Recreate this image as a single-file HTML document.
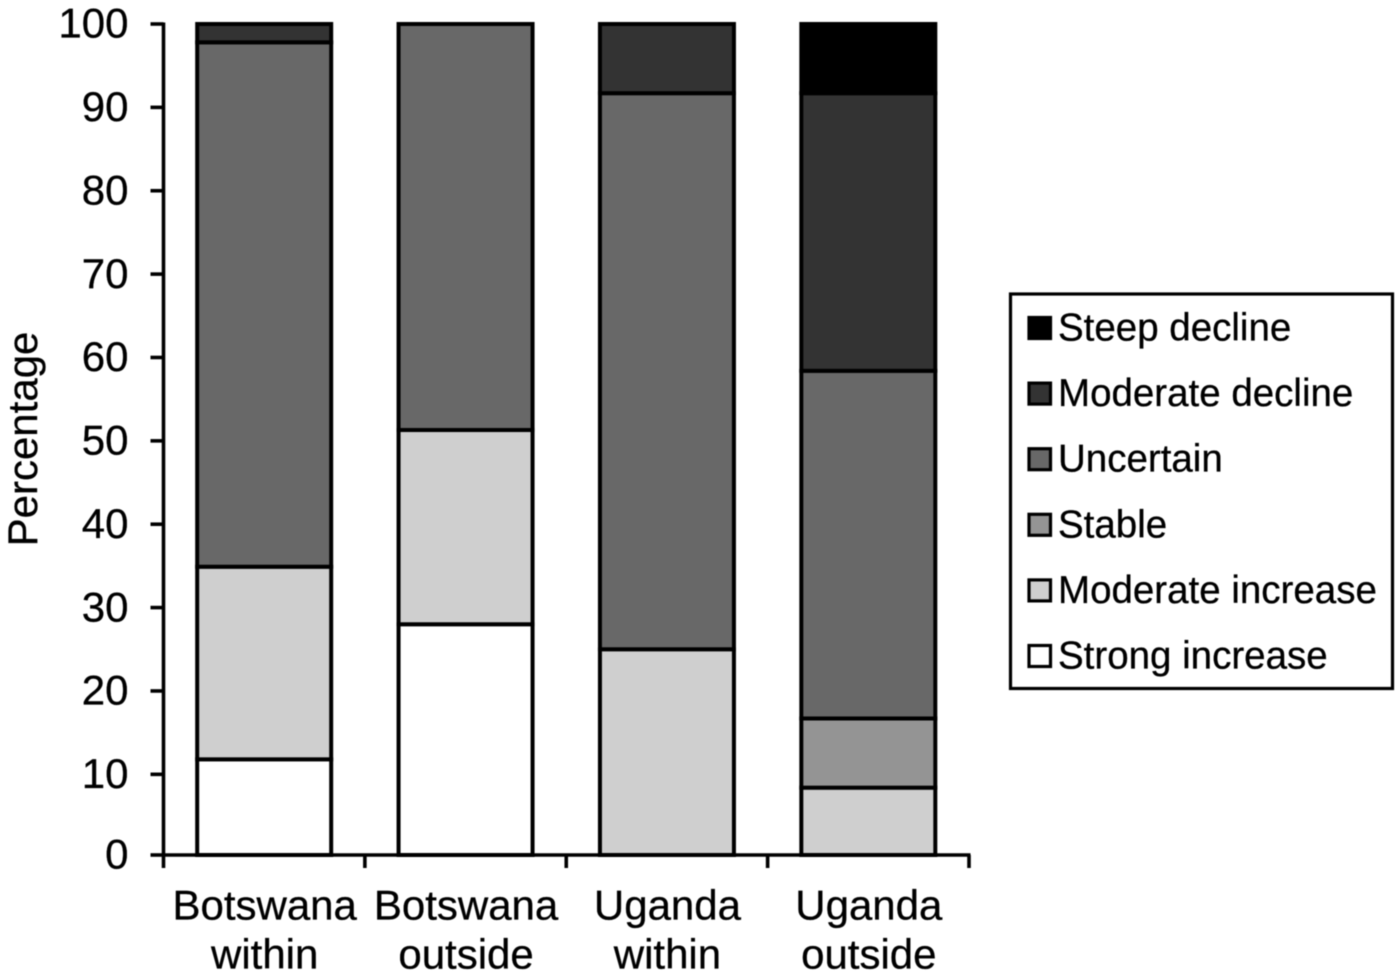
<!DOCTYPE html>
<html>
<head>
<meta charset="utf-8">
<style>
html,body{margin:0;padding:0;background:#fff;}
svg{display:block;filter:blur(0.5px);}
text{font-family:"Liberation Sans",Arial,sans-serif;fill:#000;stroke:#000;stroke-width:0.3px;}
</style>
</head>
<body>
<svg id="chart" xmlns="http://www.w3.org/2000/svg" width="1400" height="976" viewBox="0 0 1400 976"></svg>
<script>
const categories = [["Botswana","within"],["Botswana","outside"],["Uganda","within"],["Uganda","outside"]];
const seriesNames = ["Strong increase","Moderate increase","Stable","Uncertain","Moderate decline","Steep decline"];
const seriesColors = ["#ffffff","#cfcfcf","#949494","#686868","#333333","#000000"];
const strongIncrease = [11.8,28,0,0];
const moderateIncrease = [23.1,23.3,25,8.4];
const stable = [0,0,0,8.3];
const uncertain = [62.9,48.7,66.7,41.7];
const moderateDecline = [2.2,0,8.3,33.3];
const steepDecline = [0,0,0,8.3];
const yTicks = [0,10,20,30,40,50,60,70,80,90,100];
const seriesValues = [strongIncrease,moderateIncrease,stable,uncertain,moderateDecline,steepDecline];

const svg = document.getElementById('chart');
const NS = 'http://www.w3.org/2000/svg';
const plotLeft = 163.5, plotRight = 969, axisY = 855, scaleZero = 857.7, plotTop = 24;
const bandWidth = (plotRight - plotLeft) / categories.length;
const barWidth = 134;
function yScale(v){ return Math.min(axisY, scaleZero - (v / 100) * (scaleZero - plotTop)); }
function xBand(i){ return plotLeft + bandWidth * i; }
function make(tag, attrs, parent){
  const el = document.createElementNS(NS, tag);
  for (const k in attrs) el.setAttribute(k, attrs[k]);
  (parent || svg).appendChild(el);
  return el;
}

// bars
categories.forEach(function(cat, i){
  const group = make('g', {});
  
  
  let cum = 0;
  seriesValues.forEach(function(vals, s){
    const v = vals[i];
    if (v <= 0) return;
    const yTop = yScale(cum + v), yBot = yScale(cum);
    const r = make('rect', {x: xBand(i) + bandWidth/2 - barWidth/2, y: yTop, width: barWidth, height: yBot - yTop, fill: seriesColors[s], stroke: '#000', 'stroke-width': 4}, group);
    
    
    cum += v;
  });
});

// y axis
const yAxis = make('line', {x1: plotLeft, x2: plotLeft, y1: plotTop - 1.5, y2: axisY + 1.5, stroke: '#000', 'stroke-width': 3.6});


yTicks.forEach(function(t){
  const y = yScale(t);
  const tick = make('line', {x1: 150.5, x2: plotLeft, y1: y, y2: y, stroke: '#000', 'stroke-width': 3.6});
  
  
  const lab = make('text', {x: 128.5, y: y + 13.7, 'text-anchor': 'end', 'font-size': 42});
  lab.textContent = t;
  
  
});

// x axis
const xAxis = make('line', {x1: plotLeft - 1.5, x2: plotRight + 1.5, y1: axisY, y2: axisY, stroke: '#000', 'stroke-width': 3.6});


for (let i = 0; i <= categories.length; i++){
  const tk = make('line', {x1: xBand(i), x2: xBand(i), y1: axisY, y2: 868, stroke: '#000', 'stroke-width': 3.6});
  
  
}
categories.forEach(function(cat, i){
  cat.forEach(function(line, j){
    const lab = make('text', {x: xBand(i) + bandWidth/2 + 0.5, y: 919.5 + j * 49, 'text-anchor': 'middle', 'font-size': 42});
    lab.textContent = line;
    
    
  });
});

// y axis title
const yTitle = make('text', {transform: 'translate(37,439) rotate(-90)', 'text-anchor': 'middle', 'font-size': 42});
yTitle.textContent = 'Percentage';



// legend
const legend = make('g', {});


const legendBox = make('rect', {x: 1010.5, y: 294, width: 382, height: 394.5, fill: '#fff', stroke: '#000', 'stroke-width': 3.2}, legend);


seriesNames.slice().reverse().forEach(function(name, k){
  const s = seriesNames.indexOf(name);
  const cy = 328 + k * 65.6;
  const sw = make('rect', {x: 1029, y: cy - 10.5, width: 21.5, height: 21, fill: seriesColors[s], stroke: '#000', 'stroke-width': 3.2}, legend);
  
  
  const lab = make('text', {x: 1058, y: cy + 12.5, 'font-size': 38.5}, legend);
  lab.textContent = name;
  
  
});
</script>
</body>
</html>
